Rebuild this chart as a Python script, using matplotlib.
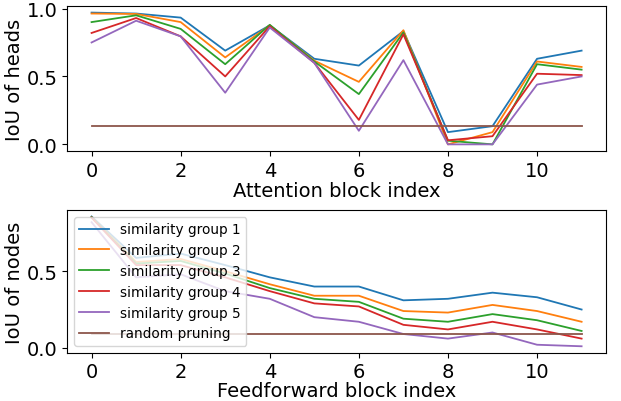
import numpy as np
import matplotlib
matplotlib.use("Agg")
import matplotlib.pyplot as plt

blocks = np.arange(12)

# IoU of attention heads per similarity group
heads_g1 = [0.97, 0.963, 0.933, 0.69, 0.876, 0.63, 0.58, 0.834, 0.09, 0.134, 0.63, 0.69]
heads_g2 = [0.963, 0.96, 0.90, 0.64, 0.876, 0.616, 0.46, 0.84, 0.0, 0.09, 0.61, 0.57]
heads_g3 = [0.90, 0.95, 0.85, 0.59, 0.88, 0.61, 0.37, 0.824, 0.027, 0.0, 0.59, 0.55]
heads_g4 = [0.82, 0.93, 0.795, 0.50, 0.87, 0.60, 0.18, 0.81, 0.03, 0.06, 0.52, 0.51]
heads_g5 = [0.75, 0.91, 0.795, 0.38, 0.86, 0.60, 0.10, 0.62, 0.0, 0.0, 0.44, 0.50]
heads_random = [0.134] * 12

# IoU of feedforward nodes per similarity group
nodes_g1 = [0.857, 0.587, 0.615, 0.54, 0.46, 0.40, 0.40, 0.31, 0.32, 0.36, 0.33, 0.25]
nodes_g2 = [0.853, 0.56, 0.58, 0.50, 0.415, 0.34, 0.34, 0.24, 0.23, 0.28, 0.24, 0.17]
nodes_g3 = [0.853, 0.55, 0.567, 0.485, 0.39, 0.32, 0.30, 0.19, 0.17, 0.22, 0.18, 0.11]
nodes_g4 = [0.85, 0.54, 0.54, 0.46, 0.37, 0.29, 0.27, 0.15, 0.12, 0.17, 0.12, 0.06]
nodes_g5 = [0.82, 0.46, 0.48, 0.37, 0.32, 0.20, 0.17, 0.09, 0.06, 0.10, 0.02, 0.01]
nodes_random = [0.09] * 12

labels = ["similarity group 1", "similarity group 2", "similarity group 3",
          "similarity group 4", "similarity group 5", "random pruning"]

fig = plt.figure(figsize=(6.21, 4.02), dpi=100)
ax1 = fig.add_axes([0.108, 0.622, 0.868, 0.3606])
ax2 = fig.add_axes([0.108, 0.12, 0.868, 0.355])

for ys, lab in zip([heads_g1, heads_g2, heads_g3, heads_g4, heads_g5, heads_random], labels):
    ax1.plot(blocks, ys, label=lab, lw=1.3)
for ys, lab in zip([nodes_g1, nodes_g2, nodes_g3, nodes_g4, nodes_g5, nodes_random], labels):
    ax2.plot(blocks, ys, label=lab, lw=1.3)

ax1.set_ylabel("IoU of heads", fontsize=14, labelpad=2)
ax1.set_xlabel("Attention block index", fontsize=14, labelpad=1)
ax2.set_ylabel("IoU of nodes", fontsize=14, labelpad=2)
ax2.set_xlabel("Feedforward block index", fontsize=14, labelpad=0)
for ax in (ax1, ax2):
    ax.set_xticks([0, 2, 4, 6, 8, 10])
    ax.set_yticks([0.0, 0.5, 1.0] if ax is ax1 else [0.0, 0.5])
    ax.tick_params(labelsize=14)

ax2.legend(loc="center left", fontsize=9.8, handlelength=2.2, borderaxespad=0.5)

fig.savefig("out.png", dpi=100)
